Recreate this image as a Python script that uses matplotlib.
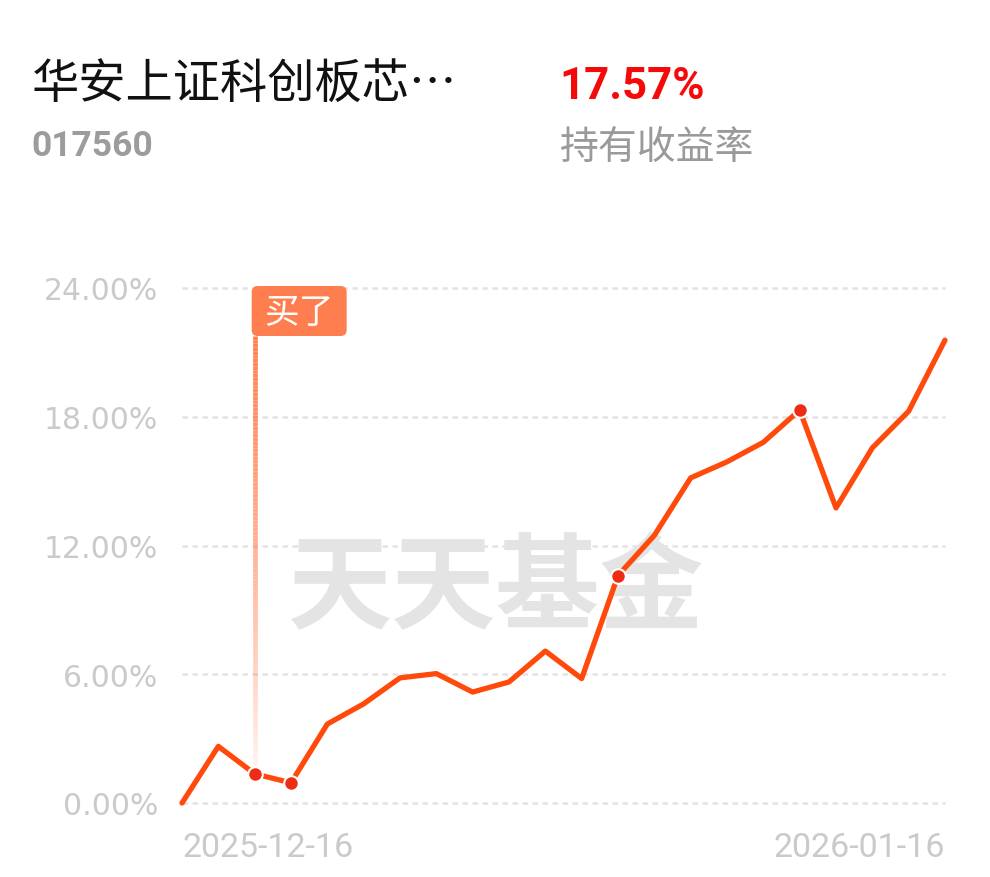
import numpy as np
import matplotlib
matplotlib.use("Agg")
import matplotlib.pyplot as plt
from matplotlib.patches import FancyBboxPatch
from matplotlib.collections import LineCollection
from matplotlib.transforms import IdentityTransform, ScaledTranslation
from matplotlib.colors import to_rgba

plt.rcParams["lines.scale_dashes"] = False

# ---------------- data ----------------
fund_name = "华安上证科创板芯…"
fund_code = "017560"
hold_return = "17.57%"
hold_label = "持有收益率"
watermark = "天天基金"
buy_label = "买了"

dates = ["2025-12-16", "2025-12-17", "2025-12-18", "2025-12-19", "2025-12-22",
         "2025-12-23", "2025-12-24", "2025-12-25", "2025-12-26", "2025-12-29",
         "2025-12-30", "2025-12-31", "2026-01-05", "2026-01-06", "2026-01-07",
         "2026-01-08", "2026-01-09", "2026-01-12", "2026-01-13", "2026-01-14",
         "2026-01-15", "2026-01-16"]
returns = [0.00, 2.64, 1.36, 0.94, 3.68, 4.62, 5.83, 6.03, 5.17, 5.64, 7.08,
           5.80, 10.60, 12.47, 15.15, 15.90, 16.81, 18.31, 13.75, 16.55, 18.26,
           21.57]
dot_idx = [2, 3, 12, 17]
buy_idx = 2
y_ticks = [0, 6, 12, 18, 24]
x_tick_idx = [0, len(dates) - 1]

# ---------------- style ----------------
CJK = ["Noto Sans CJK SC", "DejaVu Sans"]
LINE_C = "#FF4A0C"
DOT_C = "#EE2B14"
BUY_C = "#FF7E4F"
GRID_C = "#E3E3E3"
TICK_C = "#CACACA"

W, H = 990, 878
fig = plt.figure(figsize=(W / 100, H / 100), dpi=100)
fig.patch.set_facecolor("white")

ax = fig.add_axes([182 / W, (H - 804) / H, (945 - 182) / W, (804 - 289) / H])
ax.set_xlim(0, len(dates) - 1)
ax.set_ylim(y_ticks[0], y_ticks[-1])
for s in ax.spines.values():
    s.set_visible(False)

x = np.arange(len(dates))

# grid
for yv in y_ticks:
    ax.axhline(yv, color=GRID_C, lw=1.8, ls=(0, (4.0, 3.2)), zorder=0,
               clip_on=False)

# watermark
ax.text(0.412, 0.415, watermark, transform=ax.transAxes, ha="center",
        va="center", fontsize=75, fontweight="bold", color="#E4E4E4",
        family=CJK, zorder=1)

# ticks
ax.set_yticks(y_ticks)
ax.set_yticklabels([f"{v:.2f}%" for v in y_ticks], fontsize=21.5,
                   color=TICK_C, family="DejaVu Sans")
ax.set_xticks(x_tick_idx)
ax.set_xticklabels([dates[i] for i in x_tick_idx], fontsize=24.5,
                   color=TICK_C, family="Roboto")
xl = ax.get_xticklabels()
xl[0].set_ha("left")
xl[-1].set_ha("right")
ax.tick_params(axis="both", length=0)
ax.tick_params(axis="y", pad=17)
ax.tick_params(axis="x", pad=20)

# buy marker: gradient vertical line + label box
px_per_unit = (804 - 289) / (y_ticks[-1] - y_ticks[0])
box_w, box_h = 95, 50
y_box_top_off = 2
y_line_top = y_ticks[-1] + (y_box_top_off - box_h) / px_per_unit
y_line_bot = returns[buy_idx] - 0.55
n = 120
ys = np.linspace(y_line_bot, y_line_top, n + 1)
segs = [[(buy_idx, ys[i]), (buy_idx, ys[i + 1])] for i in range(n)]
base = np.array(to_rgba(BUY_C))
cols = np.tile(base, (n, 1))
cols[:, 3] = np.linspace(0.0, 1.0, n) ** 0.8
ax.add_collection(LineCollection(segs, colors=cols, linewidths=3.4,
                                 zorder=2, clip_on=False))

anchor = IdentityTransform() + ScaledTranslation(buy_idx, y_ticks[-1],
                                                 ax.transData)
box = FancyBboxPatch((-3, y_box_top_off - box_h), box_w, box_h,
                     boxstyle="round,pad=0,rounding_size=6",
                     fc=BUY_C, ec="none", transform=anchor, zorder=5,
                     clip_on=False)
ax.add_patch(box)
ax.text(-3 + box_w / 2, y_box_top_off - box_h / 2 - 2, buy_label,
        transform=anchor, ha="center", va="center", fontsize=25,
        color="white", family=CJK, zorder=6, clip_on=False)

# main line
ax.plot(x, returns, color=LINE_C, lw=3.8, solid_joinstyle="round",
        solid_capstyle="round", zorder=3, clip_on=False)
ax.scatter(x[dot_idx], [returns[i] for i in dot_idx], s=110, c=DOT_C,
           edgecolors="white", linewidths=1.5, zorder=4, clip_on=False)

# header texts
fig.text(32 / W, 1 - 85 / H, fund_name, fontsize=34, color="#111111",
         family=CJK, ha="left", va="center")
fig.text(31 / W, 1 - 147 / H, fund_code, fontsize=25.5, color="#9C9C9C",
         family=["Roboto"], fontweight="bold", ha="left", va="center")
fig.text(559 / W, 1 - 87 / H, hold_return, fontsize=31.5, color="#F50A0A",
         family=["Roboto"], fontweight="bold",
         ha="left", va="center")
fig.text(560 / W, 1 - 148 / H, hold_label, fontsize=28, color="#9A9A9A",
         family=CJK, ha="left", va="center")

fig.savefig("out.png", dpi=100, facecolor="white")
